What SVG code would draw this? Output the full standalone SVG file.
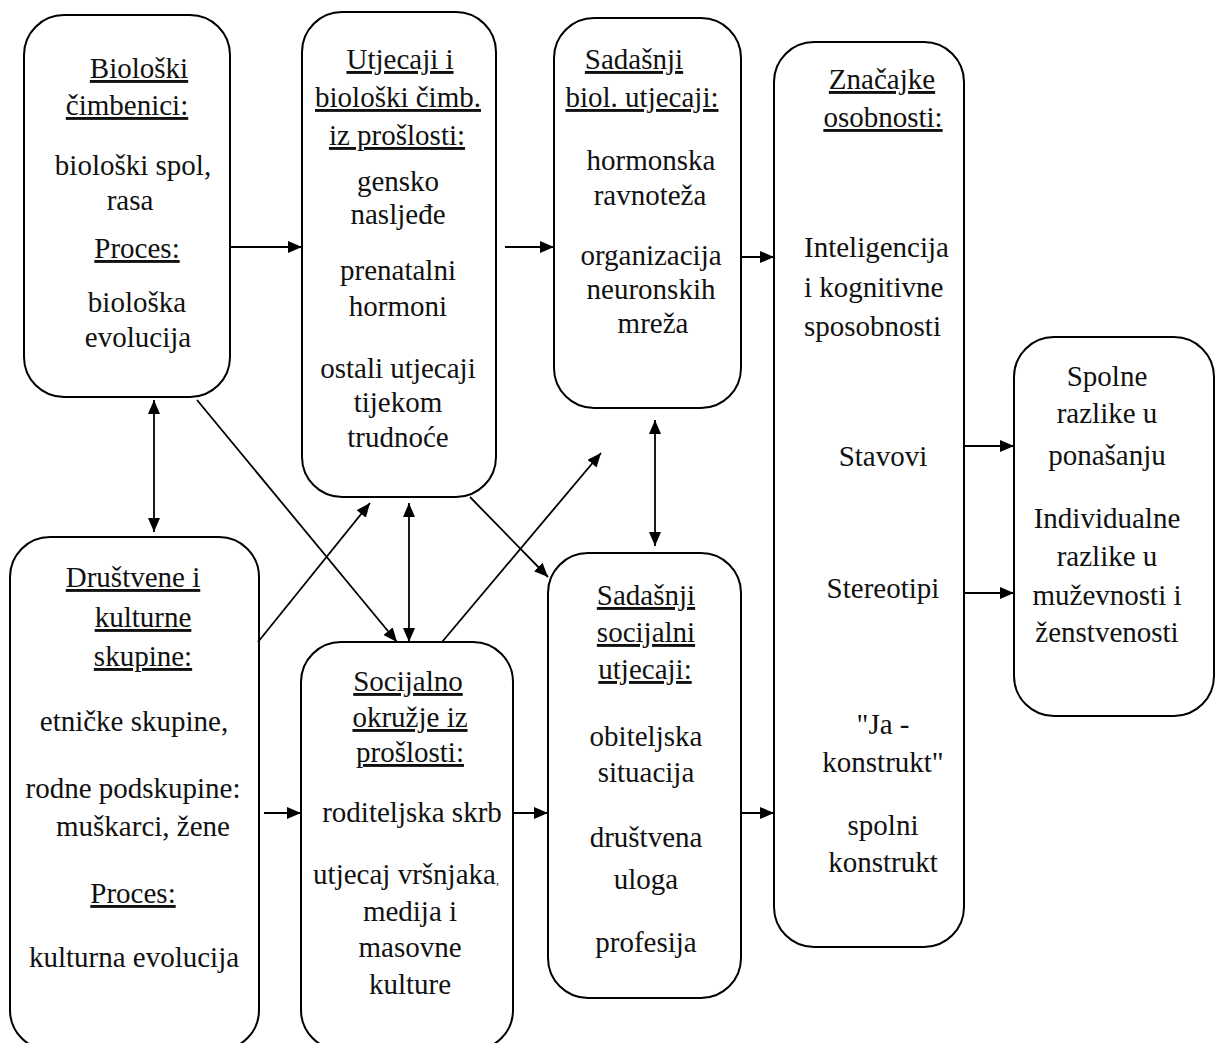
<svg xmlns="http://www.w3.org/2000/svg" width="1216" height="1043" viewBox="0 0 1216 1043">
<style>
.box{fill:#fff;stroke:#000;stroke-width:2}
.t{font-family:"Liberation Serif","Times New Roman",serif;font-size:29px;text-anchor:middle;fill:#111}
.l{text-anchor:start}
.u{text-decoration:underline}
.c{stroke:#000;stroke-width:1.8;fill:none;marker-end:url(#ah)}
.d{marker-start:url(#ah)}
</style>
<defs>
<marker id="ah" viewBox="0 0 14 12" refX="14" refY="6" markerWidth="14" markerHeight="12" markerUnits="userSpaceOnUse" orient="auto-start-reverse">
<path d="M0,0 L14,6 L0,12 z" fill="#000"/>
</marker>
</defs>
<rect width="1216" height="1043" fill="#fff"/>

<g id="bioloski">
<rect class="box" x="24" y="15" width="206" height="382" rx="40"/>
<text class="t u" x="139" y="78">Biološki</text>
<text class="t u" x="127" y="115">čimbenici:</text>
<text class="t" x="133" y="175">biološki spol,</text>
<text class="t" x="130" y="210">rasa</text>
<text class="t u" x="137" y="258">Proces:</text>
<text class="t" x="137" y="312">biološka</text>
<text class="t" x="138" y="347">evolucija</text>
</g>

<g id="utjecaji-proslost">
<rect class="box" x="302" y="12" width="194" height="485" rx="40"/>
<text class="t u" x="400" y="69">Utjecaji i</text>
<text class="t u" x="398" y="107">biološki čimb.</text>
<text class="t u" x="397" y="145">iz prošlosti:</text>
<text class="t" x="398" y="191">gensko</text>
<text class="t" x="398" y="224">nasljeđe</text>
<text class="t" x="398" y="280">prenatalni</text>
<text class="t" x="398" y="316">hormoni</text>
<text class="t" x="398" y="378">ostali utjecaji</text>
<text class="t" x="398" y="412">tijekom</text>
<text class="t" x="398" y="447">trudnoće</text>
</g>

<g id="sadasnji-biol">
<rect class="box" x="554" y="18" width="187" height="390" rx="40"/>
<text class="t u" x="634" y="69">Sadašnji</text>
<text class="t u" x="642" y="107">biol. utjecaji:</text>
<text class="t" x="651" y="170">hormonska</text>
<text class="t" x="650" y="205">ravnoteža</text>
<text class="t" x="651" y="265">organizacija</text>
<text class="t" x="651" y="299">neuronskih</text>
<text class="t" x="653" y="333">mreža</text>
</g>

<g id="znacajke">
<rect class="box" x="774" y="42" width="190" height="905" rx="40"/>
<text class="t u" x="882" y="89">Značajke</text>
<text class="t u" x="883" y="127">osobnosti:</text>
<text class="t l" x="804" y="257">Inteligencija</text>
<text class="t l" x="804" y="297">i kognitivne</text>
<text class="t l" x="804" y="336">sposobnosti</text>
<text class="t" x="883" y="466">Stavovi</text>
<text class="t" x="883" y="598">Stereotipi</text>
<text class="t" x="883" y="734">"Ja -</text>
<text class="t" x="883" y="772">konstrukt"</text>
<text class="t" x="883" y="835">spolni</text>
<text class="t" x="883" y="872">konstrukt</text>
</g>

<g id="spolne-razlike">
<rect class="box" x="1014" y="337" width="200" height="379" rx="40"/>
<text class="t" x="1107" y="386">Spolne</text>
<text class="t" x="1107" y="423">razlike u</text>
<text class="t" x="1107" y="465">ponašanju</text>
<text class="t" x="1107" y="528">Individualne</text>
<text class="t" x="1107" y="566">razlike u</text>
<text class="t" x="1107" y="605">muževnosti i</text>
<text class="t" x="1107" y="642">ženstvenosti</text>
</g>

<g id="drustvene-skupine">
<rect class="box" x="10" y="537" width="249" height="513" rx="40"/>
<text class="t u" x="133" y="587">Društvene i</text>
<text class="t u" x="143" y="627">kulturne</text>
<text class="t u" x="143" y="666">skupine:</text>
<text class="t" x="134" y="731">etničke skupine,</text>
<text class="t" x="133" y="798">rodne podskupine:</text>
<text class="t" x="143" y="836">muškarci, žene</text>
<text class="t u" x="133" y="903">Proces:</text>
<text class="t" x="134" y="967">kulturna evolucija</text>
</g>

<g id="socijalno-okruzje">
<rect class="box" x="301" y="642" width="212" height="408" rx="40"/>
<text class="t u" x="408" y="691">Socijalno</text>
<text class="t u" x="410" y="727">okružje iz</text>
<text class="t u" x="410" y="762">prošlosti:</text>
<text class="t" x="412" y="822">roditeljska skrb</text>
<text class="t" x="406" y="884">utjecaj vršnjaka<tspan font-size="12">,</tspan></text>
<text class="t" x="410" y="921">medija i</text>
<text class="t" x="410" y="957">masovne</text>
<text class="t" x="410" y="994">kulture</text>
</g>

<g id="sadasnji-socijalni">
<rect class="box" x="548" y="553" width="193" height="445" rx="40"/>
<text class="t u" x="646" y="605">Sadašnji</text>
<text class="t u" x="646" y="642">socijalni</text>
<text class="t u" x="645" y="679">utjecaji:</text>
<text class="t" x="646" y="746">obiteljska</text>
<text class="t" x="646" y="782">situacija</text>
<text class="t" x="646" y="847">društvena</text>
<text class="t" x="646" y="889">uloga</text>
<text class="t" x="646" y="952">profesija</text>
</g>

<g id="connectors">
<line class="c" x1="230" y1="247" x2="302" y2="247"/>
<line class="c" x1="505" y1="247" x2="554" y2="247"/>
<line class="c" x1="741" y1="257" x2="774" y2="257"/>
<line class="c" x1="964" y1="446" x2="1014" y2="446"/>
<line class="c" x1="964" y1="593" x2="1014" y2="593"/>
<line class="c" x1="264" y1="813" x2="301" y2="813"/>
<line class="c" x1="513" y1="813" x2="548" y2="813"/>
<line class="c" x1="741" y1="813" x2="774" y2="813"/>
<line class="c d" x1="154" y1="400" x2="154" y2="532"/>
<line class="c d" x1="409" y1="503" x2="409" y2="642"/>
<line class="c d" x1="655" y1="420" x2="655" y2="546"/>
<line class="c" x1="197" y1="400" x2="397" y2="642"/>
<line class="c" x1="258" y1="642" x2="370" y2="503"/>
<line class="c" x1="470" y1="497" x2="548" y2="577"/>
<line class="c" x1="442" y1="642" x2="601" y2="453"/>
</g>
</svg>
